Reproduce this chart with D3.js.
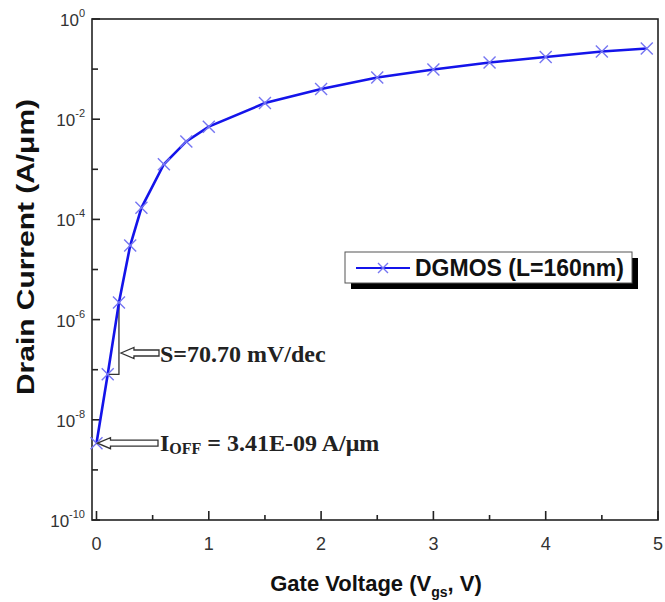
<!DOCTYPE html>
<html>
<head>
<meta charset="utf-8">
<script src="https://cdn.jsdelivr.net/npm/d3@7"></script>
<style>
body { margin: 0; background: #fff; }
svg { display: block; font-family: "Liberation Sans", Arial, sans-serif; }
</style>
</head>
<body>
<svg width="665" height="602"></svg>
<script>
// Gate voltage (V) and drain current (A/um)
var vgs = [0, 0.1, 0.2, 0.3, 0.4, 0.6, 0.8, 1.0, 1.5, 2.0, 2.5, 3.0, 3.5, 4.0, 4.5, 4.9]
var ids = [3.41e-9, 8.1e-8, 2.2e-6, 3.0e-5, 1.7e-4, 1.26e-3, 3.6e-3, 7.1e-3,
           2.1e-2, 4.0e-2, 6.8e-2, 9.8e-2, 0.135, 0.174, 0.224, 0.257]
var xTicks = [0, 1, 2, 3, 4, 5]
var xMinor = [0.5, 1.5, 2.5, 3.5, 4.5]
var yExp = [0, -2, -4, -6, -8, -10]
var yMinorExp = [-1, -3, -5, -7, -9]
var seriesName = 'DGMOS (L=160nm)'

var svg = d3.select('svg')
var pL = 92, pR = 658, pT = 19, pB = 520

var x = d3.scaleLinear().domain([-0.04, 5]).range([pL, pR])
var y = d3.scaleLog().domain([1e-10, 1]).range([pB, pT])

var lineCol = '#1414ea', markCol = '#7676f2'
var serif = '"Liberation Serif", "Times New Roman", serif'

// frame
svg.append('rect')
    .attr('x', pL).attr('y', pT)
    .attr('width', pR-pL).attr('height', pB-pT)
    .attr('fill', 'none').attr('stroke', '#222').attr('stroke-width', 1.6)

// y ticks (inward)
yExp.forEach(function(e) {
    var yy = y(Math.pow(10, e))
    svg.append('line').attr('x1', pL).attr('x2', pL+8)
	.attr('y1', yy).attr('y2', yy).attr('stroke', '#222').attr('stroke-width', 1.6)
    var t = svg.append('text').attr('x', 85).attr('y', yy+7)
	.attr('text-anchor', 'end').attr('font-size', 17).attr('fill', '#333')
    t.append('tspan').text('10')
    t.append('tspan').attr('dy', -9).attr('font-size', 11).text(e == 0 ? '0' : e)
})
yMinorExp.forEach(function(e) {
    var yy = y(Math.pow(10, e))
    svg.append('line').attr('x1', pL).attr('x2', pL+6)
	.attr('y1', yy).attr('y2', yy).attr('stroke', '#222').attr('stroke-width', 1.6)
})

// x ticks (inward)
xTicks.forEach(function(v) {
    var xx = x(v)
    svg.append('line').attr('x1', xx).attr('x2', xx)
	.attr('y1', pB).attr('y2', pB-9).attr('stroke', '#222').attr('stroke-width', 1.6)
    svg.append('text').attr('x', xx).attr('y', 550)
	.attr('text-anchor', 'middle').attr('font-size', 18).attr('fill', '#333').text(v)
})
xMinor.forEach(function(v) {
    svg.append('line').attr('x1', x(v)).attr('x2', x(v))
	.attr('y1', pB).attr('y2', pB-5).attr('stroke', '#222').attr('stroke-width', 1.6)
})

// axis titles
var xt = svg.append('text').attr('x', 376).attr('y', 591)
    .attr('text-anchor', 'middle').attr('font-size', 22).attr('font-weight', 'bold').attr('fill', '#111')
xt.append('tspan').text('Gate Voltage (V')
xt.append('tspan').attr('dy', 6).attr('font-size', 14).text('gs')
xt.append('tspan').attr('dy', -6).text(', V)')

svg.append('text')
    .attr('transform', 'translate(34,247) rotate(-90)')
    .attr('text-anchor', 'middle').attr('font-size', 24).attr('font-weight', 'bold').attr('fill', '#111')
    .attr('textLength', 296).attr('lengthAdjust', 'spacingAndGlyphs')
    .text('Drain Current (A/\u03bcm)')

// slope bracket
var p1 = [x(vgs[1]), y(ids[1])], p2 = [x(vgs[2]), y(ids[2])]
svg.append('path')
    .attr('d', d3.line()([p1, [p2[0], p1[1]], p2]))
    .attr('fill', 'none').attr('stroke', '#333').attr('stroke-width', 1.3)

// curve
svg.append('path')
    .attr('d', d3.line().x(function(d, i){ return x(vgs[i]) }).y(function(d){ return y(d) })(ids))
    .attr('fill', 'none').attr('stroke', lineCol).attr('stroke-width', 2.6)

// x markers
function cross(g, cx, cy, s) {
    g.append('path')
	.attr('d', 'M'+(cx-s)+','+(cy-s)+'L'+(cx+s)+','+(cy+s)+'M'+(cx-s)+','+(cy+s)+'L'+(cx+s)+','+(cy-s))
	.attr('stroke', markCol).attr('stroke-width', 1.4).attr('fill', 'none')
}
ids.forEach(function(d, i) { cross(svg, x(vgs[i]), y(d), 6) })

// hollow arrows
function arrow(tipX, tailX, cy) {
    var hl = 13, hh = 5.5, sh = 3
    var pts = [[tipX, cy], [tipX+hl, cy-hh], [tipX+hl, cy-sh], [tailX, cy-sh],
	       [tailX, cy+sh], [tipX+hl, cy+sh], [tipX+hl, cy+hh]]
    svg.append('path').attr('d', d3.line()(pts) + 'Z')
	.attr('fill', '#fff').attr('stroke', '#333').attr('stroke-width', 1.3)
}
arrow(p2[0]+2, 159, 353)
arrow(x(vgs[0])+1, 158, y(ids[0]))

svg.append('text').attr('x', 160).attr('y', 362)
    .attr('font-family', serif)
    .attr('font-size', 24).attr('font-weight', 'bold').attr('fill', '#222')
    .text('S=70.70 mV/dec')
var ioff = svg.append('text').attr('x', 160).attr('y', y(ids[0])+8)
    .attr('font-family', serif)
    .attr('font-size', 24).attr('font-weight', 'bold').attr('fill', '#222')
ioff.append('tspan').text('I')
ioff.append('tspan').attr('dy', 3).attr('font-size', 16).text('OFF')
ioff.append('tspan').attr('dy', -3).text(' = 3.41E-09 A/\u03bcm')

// legend
var lg = svg.append('g')
lg.append('rect').attr('x', 351).attr('y', 258).attr('width', 287).attr('height', 31).attr('fill', '#000')
lg.append('rect').attr('x', 345).attr('y', 252).attr('width', 287).attr('height', 31)
    .attr('fill', '#fff').attr('stroke', '#555').attr('stroke-width', 1)
lg.append('line').attr('x1', 356).attr('x2', 410).attr('y1', 268).attr('y2', 268)
    .attr('stroke', lineCol).attr('stroke-width', 2)
cross(lg, 383, 268, 5)
lg.append('text').attr('x', 415).attr('y', 276)
    .attr('font-size', 23).attr('font-weight', 'bold').attr('fill', '#111')
    .text(seriesName)
</script>
</body>
</html>
